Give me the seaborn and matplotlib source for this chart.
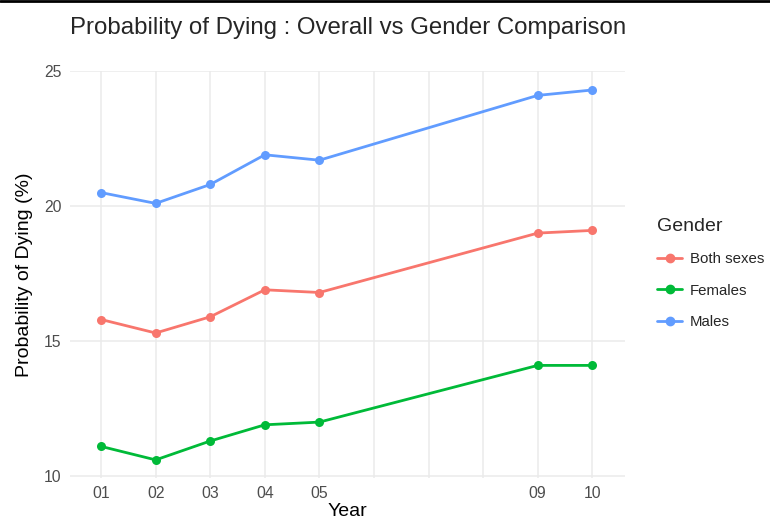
import pandas as pd
import matplotlib.pyplot as plt
import seaborn as sns
from matplotlib.lines import Line2D

# ---------------------------
# Data
# ---------------------------
years = [1, 2, 3, 4, 5, 9, 10]
year_labels = ["01", "02", "03", "04", "05", "09", "10"]
both_sexes = [15.8, 15.3, 15.9, 16.9, 16.8, 19.0, 19.1]
females = [11.1, 10.6, 11.3, 11.9, 12.0, 14.1, 14.1]
males = [20.5, 20.1, 20.8, 21.9, 21.7, 24.1, 24.3]
genders = ["Both sexes", "Females", "Males"]
colors = ["#F8766D", "#00BA38", "#619CFF"]

df = pd.DataFrame({
    "Year": years * 3,
    "Probability": both_sexes + females + males,
    "Gender": [g for g in genders for _ in years],
})

# ---------------------------
# Plot
# ---------------------------
sns.set_theme(style="white")
plt.rcParams['font.family'] = ['Liberation Sans', 'DejaVu Sans']

fig = plt.figure(figsize=(7.7, 5.22), dpi=100)
ax = fig.add_axes([0.0909, 0.0843, 0.7208, 0.7795])

sns.lineplot(data=df, x="Year", y="Probability", hue="Gender",
             hue_order=genders, palette=colors, marker="o", markersize=6.5,
             markeredgewidth=0, linewidth=2.0, ax=ax, legend=False)

ax.set_xlim(0.43, 10.6)
ax.set_ylim(9.93, 25.0)

# gridlines at every year, labels only where there is data
ax.set_xticks(range(1, 11), minor=True)
ax.set_xticks(years)
ax.set_xticklabels(year_labels)
ax.set_yticks([10, 15, 20, 25])
ax.set_yticklabels(["10", "15", "20", "25"])
ax.grid(True, which="both", axis="x", color="#EBEBEB", linewidth=1.1)
ax.grid(True, which="major", axis="y", color="#EBEBEB", linewidth=1.1)
ax.set_axisbelow(True)
for s in ax.spines.values():
    s.set_visible(False)
ax.tick_params(axis="both", which="both", length=0, labelsize=11.3,
               labelcolor="#4D4D4D", pad=6)

ax.set_xlabel("Year", fontsize=14, color="black", labelpad=1)
ax.set_ylabel("Probability of Dying (%)", fontsize=14, color="black", labelpad=8)
fig.text(0.0909, 0.947, "Probability of Dying : Overall vs Gender Comparison",
         fontsize=17.3, ha="left", va="center")

handles = [Line2D([0], [0], color=c, marker="o", markersize=6, linewidth=2)
           for c in colors]
leg = fig.legend(handles, genders, title="Gender", loc="upper left",
                 bbox_to_anchor=(0.836, 0.608), frameon=False, fontsize=10.8,
                 title_fontsize=14, handlelength=1.65, labelspacing=1.15,
                 handletextpad=0.55, alignment="left")

# black border line at the top of the screenshot
fig.add_artist(Line2D([0, 1], [0.998, 0.998], color="black", linewidth=2,
                      transform=fig.transFigure))

plt.savefig("out.png", dpi=100)
